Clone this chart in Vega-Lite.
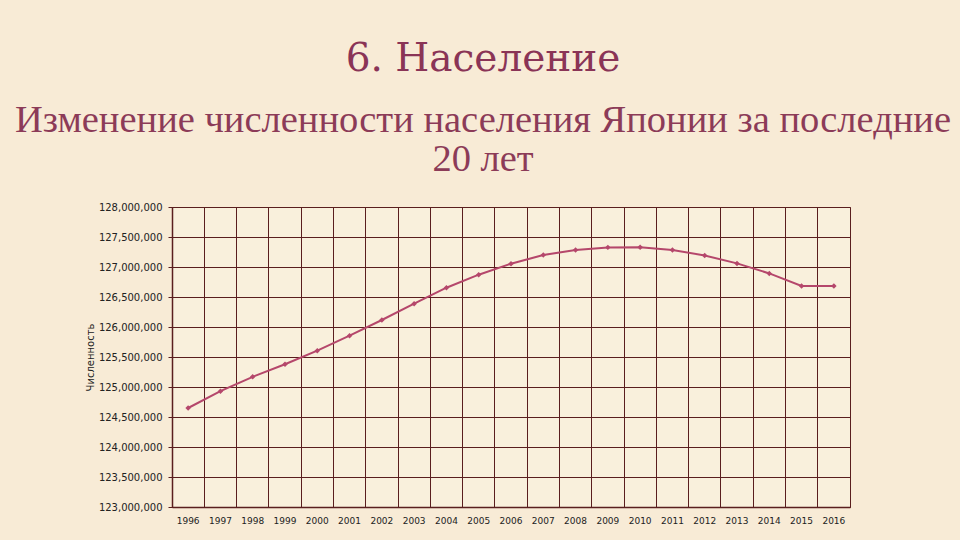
{
  "$schema": "https://vega.github.io/schema/vega-lite/v6.json",
  "width": 678,
  "height": 300,
  "autosize": "none",
  "padding": {"left": 172, "top": 207, "right": 110, "bottom": 33},
  "background": "#F8EBD6",
  "title": {
    "text": "6. Население",
    "subtitle": ["Изменение численности населения Японии за последние", "20 лет"],
    "anchor": "middle",
    "frame": "group",
    "dx": -28,
    "offset": 24,
    "font": "DejaVu Serif",
    "fontSize": 39,
    "fontWeight": "normal",
    "color": "#8A3456",
    "subtitleFont": "Liberation Serif",
    "subtitleFontSize": 38.5,
    "subtitleColor": "#8C3B58",
    "subtitlePadding": 23,
    "subtitleLineHeight": 39
  },
  "data": {
    "values": [
      {"year": "1996", "pop": 124650000},
      {"year": "1997", "pop": 124930000},
      {"year": "1998", "pop": 125170000},
      {"year": "1999", "pop": 125380000},
      {"year": "2000", "pop": 125605000},
      {"year": "2001", "pop": 125855000},
      {"year": "2002", "pop": 126117000},
      {"year": "2003", "pop": 126388000},
      {"year": "2004", "pop": 126655000},
      {"year": "2005", "pop": 126872000},
      {"year": "2006", "pop": 127055000},
      {"year": "2007", "pop": 127200000},
      {"year": "2008", "pop": 127283000},
      {"year": "2009", "pop": 127327000},
      {"year": "2010", "pop": 127330000},
      {"year": "2011", "pop": 127283000},
      {"year": "2012", "pop": 127193000},
      {"year": "2013", "pop": 127060000},
      {"year": "2014", "pop": 126893000},
      {"year": "2015", "pop": 126683000},
      {"year": "2016", "pop": 126683000}
    ]
  },
  "encoding": {
    "x": {
      "field": "year",
      "type": "ordinal",
      "scale": {"type": "band", "paddingInner": 0, "paddingOuter": 0},
      "axis": {
        "title": null,
        "bandPosition": 0,
        "grid": true,
        "gridColor": "#5A1E1E",
        "gridOpacity": 1,
        "gridWidth": 1,
        "tickSize": 0,
        "labelPadding": 9,
        "labelAngle": 0,
        "labelFont": "DejaVu Sans",
        "labelFontSize": 9,
        "labelColor": "#222222",
        "domainColor": "#5A1E1E",
        "domainWidth": 1.5
      }
    },
    "y": {
      "field": "pop",
      "type": "quantitative",
      "scale": {"domain": [123000000, 128000000], "nice": false, "zero": false},
      "axis": {
        "title": "Численность",
        "values": [123000000, 123500000, 124000000, 124500000, 125000000, 125500000, 126000000, 126500000, 127000000, 127500000, 128000000],
        "format": ",.0f",
        "grid": true,
        "gridColor": "#5A1E1E",
        "gridOpacity": 1,
        "gridWidth": 1,
        "tickSize": 4,
        "tickColor": "#5A1E1E",
        "labelPadding": 6,
        "labelFont": "DejaVu Sans",
        "labelFontSize": 10,
        "labelColor": "#222222",
        "domainColor": "#5A1E1E",
        "domainWidth": 1.5,
        "titleFont": "DejaVu Sans",
        "titleFontSize": 10,
        "titleFontWeight": "normal",
        "titleColor": "#222222",
        "titlePadding": 3
      }
    }
  },
  "layer": [
    {"mark": {"type": "line", "color": "#B5476B", "strokeWidth": 2}},
    {"mark": {"type": "point", "shape": "diamond", "filled": true, "size": 30, "color": "#B5476B", "opacity": 1}}
  ],
  "config": {
    "view": {"stroke": "#5A1E1E", "strokeWidth": 1, "fill": "#F9F0DC"}
  }
}
